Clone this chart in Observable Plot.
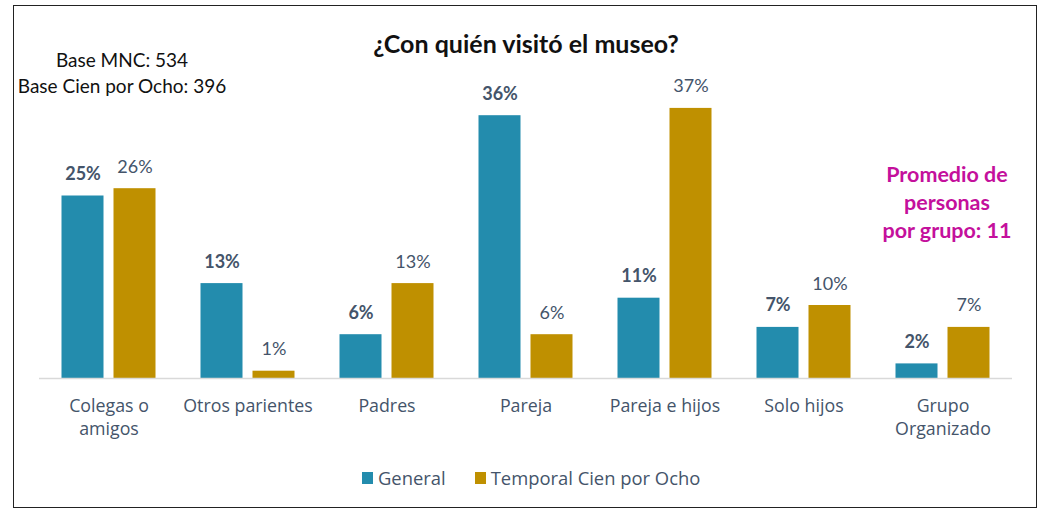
<!DOCTYPE html>
<html>
<head>
<meta charset="utf-8">
<script src="https://cdn.jsdelivr.net/npm/d3@7"></script>
<script src="https://cdn.jsdelivr.net/npm/@observablehq/plot@0.6"></script>
<style>
  html, body { margin: 0; padding: 0; background: #fff; }
  #wrap { position: relative; width: 1041px; height: 511px; overflow: hidden; background: #fff; }
  #frame { position: absolute; left: 13px; top: 5px; width: 1024px; height: 503px; border: 1.5px solid #222; box-sizing: border-box; }
  #chart { position: absolute; left: 0; top: 0; }
  #title { position: absolute; left: 0; width: 1052px; top: 28px; text-align: center; font: bold 25px Lato, "Liberation Sans", sans-serif; color: #111; }
  #base { position: absolute; left: 12px; width: 220px; top: 47px; text-align: center; font: 19px/26px Lato, "Liberation Sans", sans-serif; color: #111; }
  #avg { position: absolute; left: 856px; width: 182px; top: 160px; text-align: center; font: bold 21.5px/28px Lato, "Liberation Sans", sans-serif; color: #C4109C; }
  #legend { position: absolute; left: 362px; top: 465px; display: flex; gap: 29px; font: 18.4px "Open Sans", sans-serif; color: #44546A; }
  #legend span.item { display: flex; align-items: center; gap: 5px; }
  #legend i { display: inline-block; width: 11px; height: 12px; }
</style>
</head>
<body>
<div id="wrap">
  <div id="frame"></div>
  <div id="chart"></div>
  <div id="title">¿Con quién visitó el museo?</div>
  <div id="base">Base MNC: 534<br>Base Cien por Ocho: 396</div>
  <div id="avg">Promedio de<br>personas<br>por grupo: 11</div>
  <div id="legend"></div>
</div>
<script>
const categories = ["Colegas o amigos", "Otros parientes", "Padres", "Pareja", "Pareja e hijos", "Solo hijos", "Grupo Organizado"];
const tickLabels = ["Colegas o\namigos", "Otros parientes", "Padres", "Pareja", "Pareja e hijos", "Solo hijos", "Grupo\nOrganizado"];
const seriesNames = ["General", "Temporal Cien por Ocho"];
const seriesColors = ["#238CAD", "#BF9000"];
const general = [25, 13, 6, 36, 11, 7, 2];
const temporal = [26, 1, 13, 6, 37, 10, 7];

const rows = [];
categories.forEach((c, i) => {
  rows.push({cat: c, series: seriesNames[0], value: general[i]});
  rows.push({cat: c, series: seriesNames[1], value: temporal[i]});
});
const labelOf = new Map(categories.map((c, i) => [c, tickLabels[i]]));
const txtColor = "#44546A";

const chart = Plot.plot({
  width: 1041,
  height: 450,
  marginLeft: 38.5,
  marginRight: 28.5,
  marginTop: 86,
  marginBottom: 72,
  style: {fontFamily: "'Open Sans', sans-serif", background: "transparent", overflow: "visible"},
  fx: {domain: categories, padding: 0, label: null},
  x: {domain: seriesNames, paddingInner: 0.1887, paddingOuter: 0.4057, axis: null},
  y: {domain: [0, 40], axis: null},
  color: {domain: seriesNames, range: seriesColors},
  marks: [
    Plot.barY(rows, {fx: "cat", x: "series", y: "value", fill: "series"}),
    Plot.ruleY([0], {stroke: "#D9D9D9", strokeWidth: 1.5}),
    Plot.text(rows.filter(d => d.series === seriesNames[0]), {
      fx: "cat", x: "series", y: "value", text: d => d.value + "%",
      lineAnchor: "bottom", dy: -16, fontSize: 18, fontWeight: "bold", fill: txtColor,
      fontFamily: "Lato, 'Liberation Sans', sans-serif"
    }),
    Plot.text(rows.filter(d => d.series === seriesNames[1]), {
      fx: "cat", x: "series", y: "value", text: d => d.value + "%",
      lineAnchor: "bottom", dy: -16, fontSize: 18, fill: txtColor,
      fontFamily: "Lato, 'Liberation Sans', sans-serif"
    }),
    Plot.axisFx({anchor: "bottom", tickSize: 0, tickPadding: 17, fontSize: 17.8, lineHeight: 1.3,
      fill: txtColor, tickFormat: c => labelOf.get(c), label: null})
  ]
});
document.getElementById("chart").appendChild(chart);

const legend = document.getElementById("legend");
seriesNames.forEach((s, i) => {
  const item = document.createElement("span");
  item.className = "item";
  const sw = document.createElement("i");
  sw.style.background = seriesColors[i];
  item.appendChild(sw);
  item.appendChild(document.createTextNode(s));
  legend.appendChild(item);
});
</script>
</body>
</html>
